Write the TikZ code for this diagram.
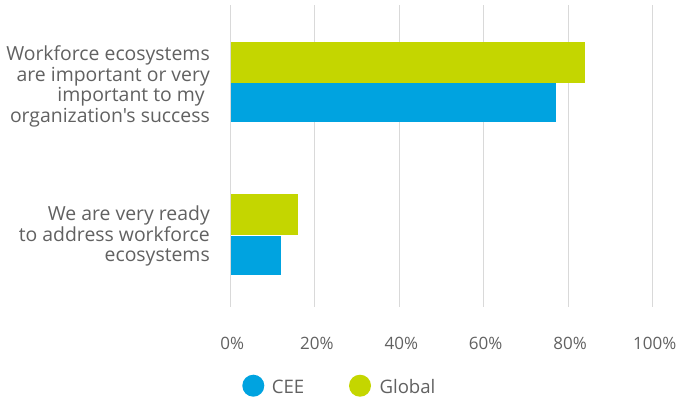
\documentclass[tikz,border=0pt]{standalone}
\usepackage{fontspec}
\setmainfont{Open Sans}[Ligatures=TeXOff]
\usepackage{xcolor}
\usepackage{tikz}
\usetikzlibrary{calc,positioning}
\definecolor{ceeblue}{HTML}{00A3E0}
\definecolor{globalgreen}{HTML}{C4D600}
\definecolor{labelgray}{HTML}{616161}
\definecolor{gridgray}{HTML}{D9D9D9}
\tikzset{
  ceebar/.style={fill=ceeblue, draw=none, inner sep=0pt, minimum height=39pt, anchor=north west},
  globalbar/.style={fill=globalgreen, draw=none, inner sep=0pt, minimum height=41pt, anchor=south west},
  catlabel/.style={align=right, anchor=east, inner sep=0pt, text=labelgray,
    font=\fontsize{19.4}{20.8}\selectfont},
  ticklabel/.style={anchor=center, inner sep=0pt, text=labelgray, font=\fontsize{17}{20}\selectfont},
  legtext/.style={anchor=west, inner sep=0pt, text=labelgray, font=\fontsize{18.6}{20}\selectfont},
  gridline/.style={draw=gridgray, line width=1.3pt}
}

\begin{document}
\begin{tikzpicture}[x=1pt,y=-1pt]
\useasboundingbox (0,0) rectangle (679,399);
\draw[gridline] (230.3,5.3) -- (230.3,307.3);
\draw[gridline] (314.8,5.3) -- (314.8,307.3);
\draw[gridline] (399.3,5.3) -- (399.3,307.3);
\draw[gridline] (483.7,5.3) -- (483.7,307.3);
\draw[gridline] (568.2,5.3) -- (568.2,307.3);
\draw[gridline] (652.7,5.3) -- (652.7,307.3);
\node (globalA) [globalbar, minimum width=354.8pt] at (230.3,82.7) {};
\node (ceeA) [ceebar, minimum width=325.2pt] at (globalA.south west) {};
\node (globalB) [globalbar, minimum width=67.6pt] at (230.3,235.5) {};
\node (ceeB) [ceebar, minimum width=50.7pt] at (globalB.south west) {};
\node (catA) [catlabel] at (210,86.5) {Workforce ecosystems\\are important or very\\important to my\phantom{ }\\organization's success};
\node (catB) [catlabel] at (210,236) {We are very ready\\to address workforce\\ecosystems};
\node (t0) [ticklabel] at (232.3,343.3) {0\%};
\node (t20) [ticklabel] at (316.8,343.3) {20\%};
\node (t40) [ticklabel] at (401.3,343.3) {40\%};
\node (t60) [ticklabel] at (485.7,343.3) {60\%};
\node (t80) [ticklabel] at (570.2,343.3) {80\%};
\node (t100) [ticklabel] at (654.7,343.3) {100\%};
\fill[ceeblue] (253.3,385.7) circle (11pt);
\node (legCEE) [legtext] at (271.7,386.5) {CEE};
\fill[globalgreen] (360,385.7) circle (11pt);
\node (legGlobal) [legtext] at (379.3,386.5) {Global};
\end{tikzpicture}
\end{document}
